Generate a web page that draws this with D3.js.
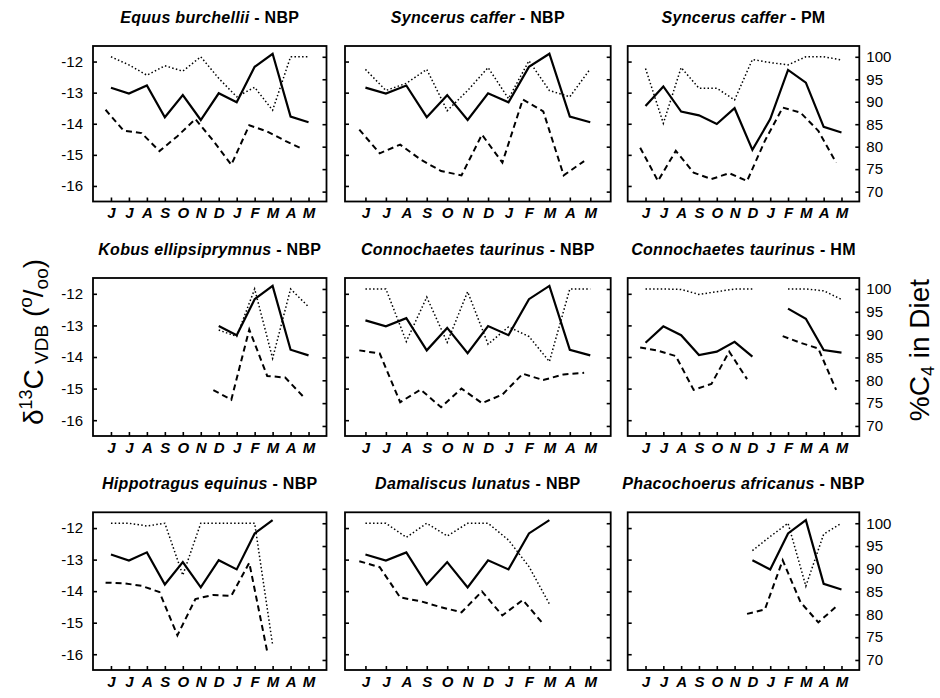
<!DOCTYPE html>
<html>
<head>
<meta charset="utf-8">
<script src="https://cdn.jsdelivr.net/npm/d3@7"></script>
<style>
  body { margin: 0; background: #fff; }
  svg { display: block; }
  text { font-family: "Liberation Sans", Arial, sans-serif; fill: #000; }
</style>
</head>
<body>
<svg id="chart" width="940" height="698"></svg>
<script>
// Month sequence, June through May
const months = ["J", "J", "A", "S", "O", "N", "D", "J", "F", "M", "A", "M"];
const deltaTicks = [-12, -13, -14, -15, -16];
const c4Ticks = [100, 95, 90, 85, 80, 75, 70];

// Grass δ13C (solid line), per locality
const grassNBP = [-12.84, -13.03, -12.77, -13.79, -13.08, -13.88, -13.02, -13.31, -12.17, -11.75, -13.77, -13.95];
const grassPM  = [-13.43, -12.80, -13.61, -13.73, -14.01, -13.50, -14.84, -13.85, -12.27, -12.68, -14.10, -14.28];
const grassHM  = [-13.55, -13.03, -13.31, -13.94, -13.83, -13.52, -13.99, null, -12.47, -12.79, -13.78, -13.86];

// Faecal δ13C (dashed line)
const equusDelta    = [-13.55, -14.22, -14.30, -14.88, -14.40, -13.85, -14.55, -15.32, -14.05, -14.25, -14.55, -14.82];
const syncNbpDelta  = [-14.19, -14.95, -14.67, -15.15, -15.52, -15.66, -14.35, -15.25, -13.22, -13.60, -15.66, -15.20];
const syncPmDelta   = [-14.77, -15.84, -14.87, -15.57, -15.78, -15.59, -15.84, -14.55, -13.48, -13.64, -14.23, -15.25];
const kobusDelta    = [null, null, null, null, null, null, -15.05, -15.35, -13.13, -14.60, -14.65, -15.25];
const connNbpDelta  = [-13.79, -13.89, -15.43, -15.03, -15.59, -15.00, -15.46, -15.19, -14.53, -14.73, -14.55, -14.50];
const connHmDelta   = [-13.70, -13.80, -13.97, -15.04, -14.85, -13.83, -14.70, null, -13.34, -13.55, -13.73, -15.04];
const hippoDelta    = [-13.73, -13.75, -13.83, -14.03, -15.40, -14.25, -14.12, -14.15, -13.10, -15.92, null, null];
const damalDelta    = [-13.05, -13.24, -14.20, -14.32, -14.51, -14.67, -14.01, -14.77, -14.28, -15.04, null, null];
const phacoDelta    = [null, null, null, null, null, null, -14.72, -14.58, -13.02, -14.35, -14.99, -14.49];

// %C4 in diet (dotted line)
const equusC4    = [100, 98.2, 95.9, 98.0, 96.8, 100, 95.2, 91.1, 93.2, 88.1, 100, 100];
const syncNbpC4  = [97.2, 92.5, 94.1, 97.2, 88.0, 92.5, 97.6, 90.7, 99.1, 92.5, 91.1, 97.3];
const syncPmC4   = [97.4, 85.2, 97.6, 93.0, 93.0, 90.4, 99.4, 98.7, 98.2, 100, 100, 99.3];
const kobusC4    = [null, null, null, null, null, null, 91.0, 89.6, 100, 84.8, 100, 96.1];
const connNbpC4  = [100, 100, 88.5, 98.2, 88.3, 99.4, 87.9, 91.7, 89.6, 84.1, 100, 100];
const connHmC4   = [100, 100, 99.9, 98.8, 99.4, 100, 100, null, 100, 100, 99.6, 97.7];
const hippoC4    = [100, 100, 99.4, 100, 88.6, 100, 100, 100, 100, 73.3, null, null];
const damalC4    = [100, 100, 96.9, 100, 97.2, 100, 100, 96.3, 90.5, 82.3, null, null];
const phacoC4    = [null, null, null, null, null, null, 94.0, 97.1, 100, 86.2, 97.6, 100];

const species = ["Equus burchellii", "Syncerus caffer", "Syncerus caffer",
                 "Kobus ellipsiprymnus", "Connochaetes taurinus", "Connochaetes taurinus",
                 "Hippotragus equinus", "Damaliscus lunatus", "Phacochoerus africanus"];
const sites = ["NBP", "PM", "HM"];

// keep grass values only for the months in which the species was sampled
const within = (arr, from, to) => arr.map((v, i) => (i >= from && i <= to ? v : null));

const panels = [
  { sp: 0, site: 0, grass: grassNBP, delta: equusDelta, c4: equusC4 },
  { sp: 1, site: 0, grass: grassNBP, delta: syncNbpDelta, c4: syncNbpC4 },
  { sp: 2, site: 1, grass: grassPM, delta: syncPmDelta, c4: syncPmC4 },
  { sp: 3, site: 0, grass: within(grassNBP, 6, 11), delta: kobusDelta, c4: kobusC4 },
  { sp: 4, site: 0, grass: grassNBP, delta: connNbpDelta, c4: connNbpC4 },
  { sp: 5, site: 2, grass: grassHM, delta: connHmDelta, c4: connHmC4 },
  { sp: 6, site: 0, grass: within(grassNBP, 0, 9), delta: hippoDelta, c4: hippoC4 },
  { sp: 7, site: 0, grass: within(grassNBP, 0, 9), delta: damalDelta, c4: damalC4 },
  { sp: 8, site: 0, grass: within(grassNBP, 6, 11), delta: phacoDelta, c4: phacoC4 }
];

// Panel frames (px)
const colBounds = [[93, 326.5], [345, 610.7], [627.7, 859.3]];
const rowBounds = [[46, 201.5], [278, 436], [512.3, 670]];
// faecal samples were collected ahead of the month midpoint
const faecalLag = -0.3;

const svg = d3.select("#chart");

panels.forEach((p, k) => {
  const col = k % 3, row = Math.floor(k / 3);
  const [x0, x1] = colBounds[col];
  const [y0, y1] = rowBounds[row];

  const x = d3.scaleLinear().domain([-1, 12]).range([x0, x1]);
  const yL = d3.scaleLinear().domain([-16.5, -11.5]).range([y1, y0]);
  const yR = d3.scaleLinear().domain([67.8, 102.4]).range([y1, y0]);

  const g = svg.append("g");

  // left axis (δ13C)
  const ax = g.append("g").attr("transform", `translate(${x0},0)`)
    .call(d3.axisLeft(yL).tickValues(deltaTicks).tickSizeInner(-4).tickSizeOuter(0)
      .tickPadding(10).tickFormat(d => (col === 0 ? String(d) : "")));
  // right axis (%C4)
  const ar = g.append("g").attr("transform", `translate(${x1},0)`)
    .call(d3.axisRight(yR).tickValues(c4Ticks).tickSizeInner(-4).tickSizeOuter(0)
      .tickPadding(7).tickFormat(d => (col === 2 ? String(d) : "")));
  // bottom axis (months)
  const ab = g.append("g").attr("transform", `translate(0,${y1})`)
    .call(d3.axisBottom(x).tickValues(d3.range(12)).tickSizeInner(-4).tickSizeOuter(0)
      .tickPadding(6).tickFormat(i => months[i]));

  [ax, ar, ab].forEach(a => {
    a.select(".domain").remove();
    a.selectAll(".tick line").attr("stroke", "#000").attr("stroke-width", 1.6);
  });
  [ax, ar].forEach(a => a.selectAll(".tick text")
    .style("font-size", "15px").attr("fill", "#000"));
  ab.selectAll(".tick text")
    .style("font-size", "15px").style("font-weight", "bold").style("font-style", "italic")
    .attr("fill", "#000");

  // frame
  g.append("rect")
    .attr("x", x0).attr("y", y0).attr("width", x1 - x0).attr("height", y1 - y0)
    .attr("fill", "none").attr("stroke", "#000").attr("stroke-width", 1.8);

  // title
  const t = g.append("text")
    .attr("x", (x0 + x1) / 2).attr("y", y0 - 23)
    .attr("text-anchor", "middle")
    .style("font-size", "16px").style("font-weight", "bold")
    .style("letter-spacing", "0.3px");
  t.append("tspan").style("font-style", "italic").text(species[p.sp]);
  t.append("tspan").text(" - " + sites[p.site]);

  const def = d => d !== null && d !== undefined;

  // %C4 (dotted)
  g.append("path")
    .datum(p.c4)
    .attr("fill", "none").attr("stroke", "#000")
    .attr("stroke-width", 1.5).attr("stroke-dasharray", "1.5,2.3")
    .attr("d", d3.line().defined(def).x((d, i) => x(i)).y(d => yR(d)));

  // faecal δ13C (dashed)
  g.append("path")
    .datum(p.delta)
    .attr("fill", "none").attr("stroke", "#000")
    .attr("stroke-width", 2).attr("stroke-dasharray", "6,4")
    .attr("d", d3.line().defined(def).x((d, i) => x(i + faecalLag)).y(d => yL(d)));

  // grass δ13C (solid)
  g.append("path")
    .datum(p.grass)
    .attr("fill", "none").attr("stroke", "#000")
    .attr("stroke-width", 2.2).attr("stroke-linejoin", "miter")
    .attr("d", d3.line().defined(def).x((d, i) => x(i)).y(d => yL(d)));
});

// Left axis title: δ13C VDB (‰)
const lt = svg.append("text")
  .attr("transform", "translate(43,342) rotate(-90)")
  .attr("text-anchor", "middle")
  .style("font-size", "28px");
lt.append("tspan").text("δ");
lt.append("tspan").attr("dy", -11).style("font-size", "18px").text("13");
lt.append("tspan").attr("dy", 11).text("C");
lt.append("tspan").attr("dy", 5).style("font-size", "19px").text(" VDB");
lt.append("tspan").attr("dy", -5).text(" (");
lt.append("tspan").attr("dy", -11).style("font-size", "19px").text("o");
lt.append("tspan").attr("dy", 11).text("/");
lt.append("tspan").attr("dy", 5).style("font-size", "19px").text("oo");
lt.append("tspan").attr("dy", -5).text(")");

// Right axis title: %C4 in Diet
const rt = svg.append("text")
  .attr("transform", "translate(929,350) rotate(-90)")
  .attr("text-anchor", "middle")
  .style("font-size", "28px");
rt.append("tspan").text("%C");
rt.append("tspan").attr("dy", 5).style("font-size", "18px").text("4");
rt.append("tspan").attr("dy", -5).text(" in Diet");
</script>
</body>
</html>
